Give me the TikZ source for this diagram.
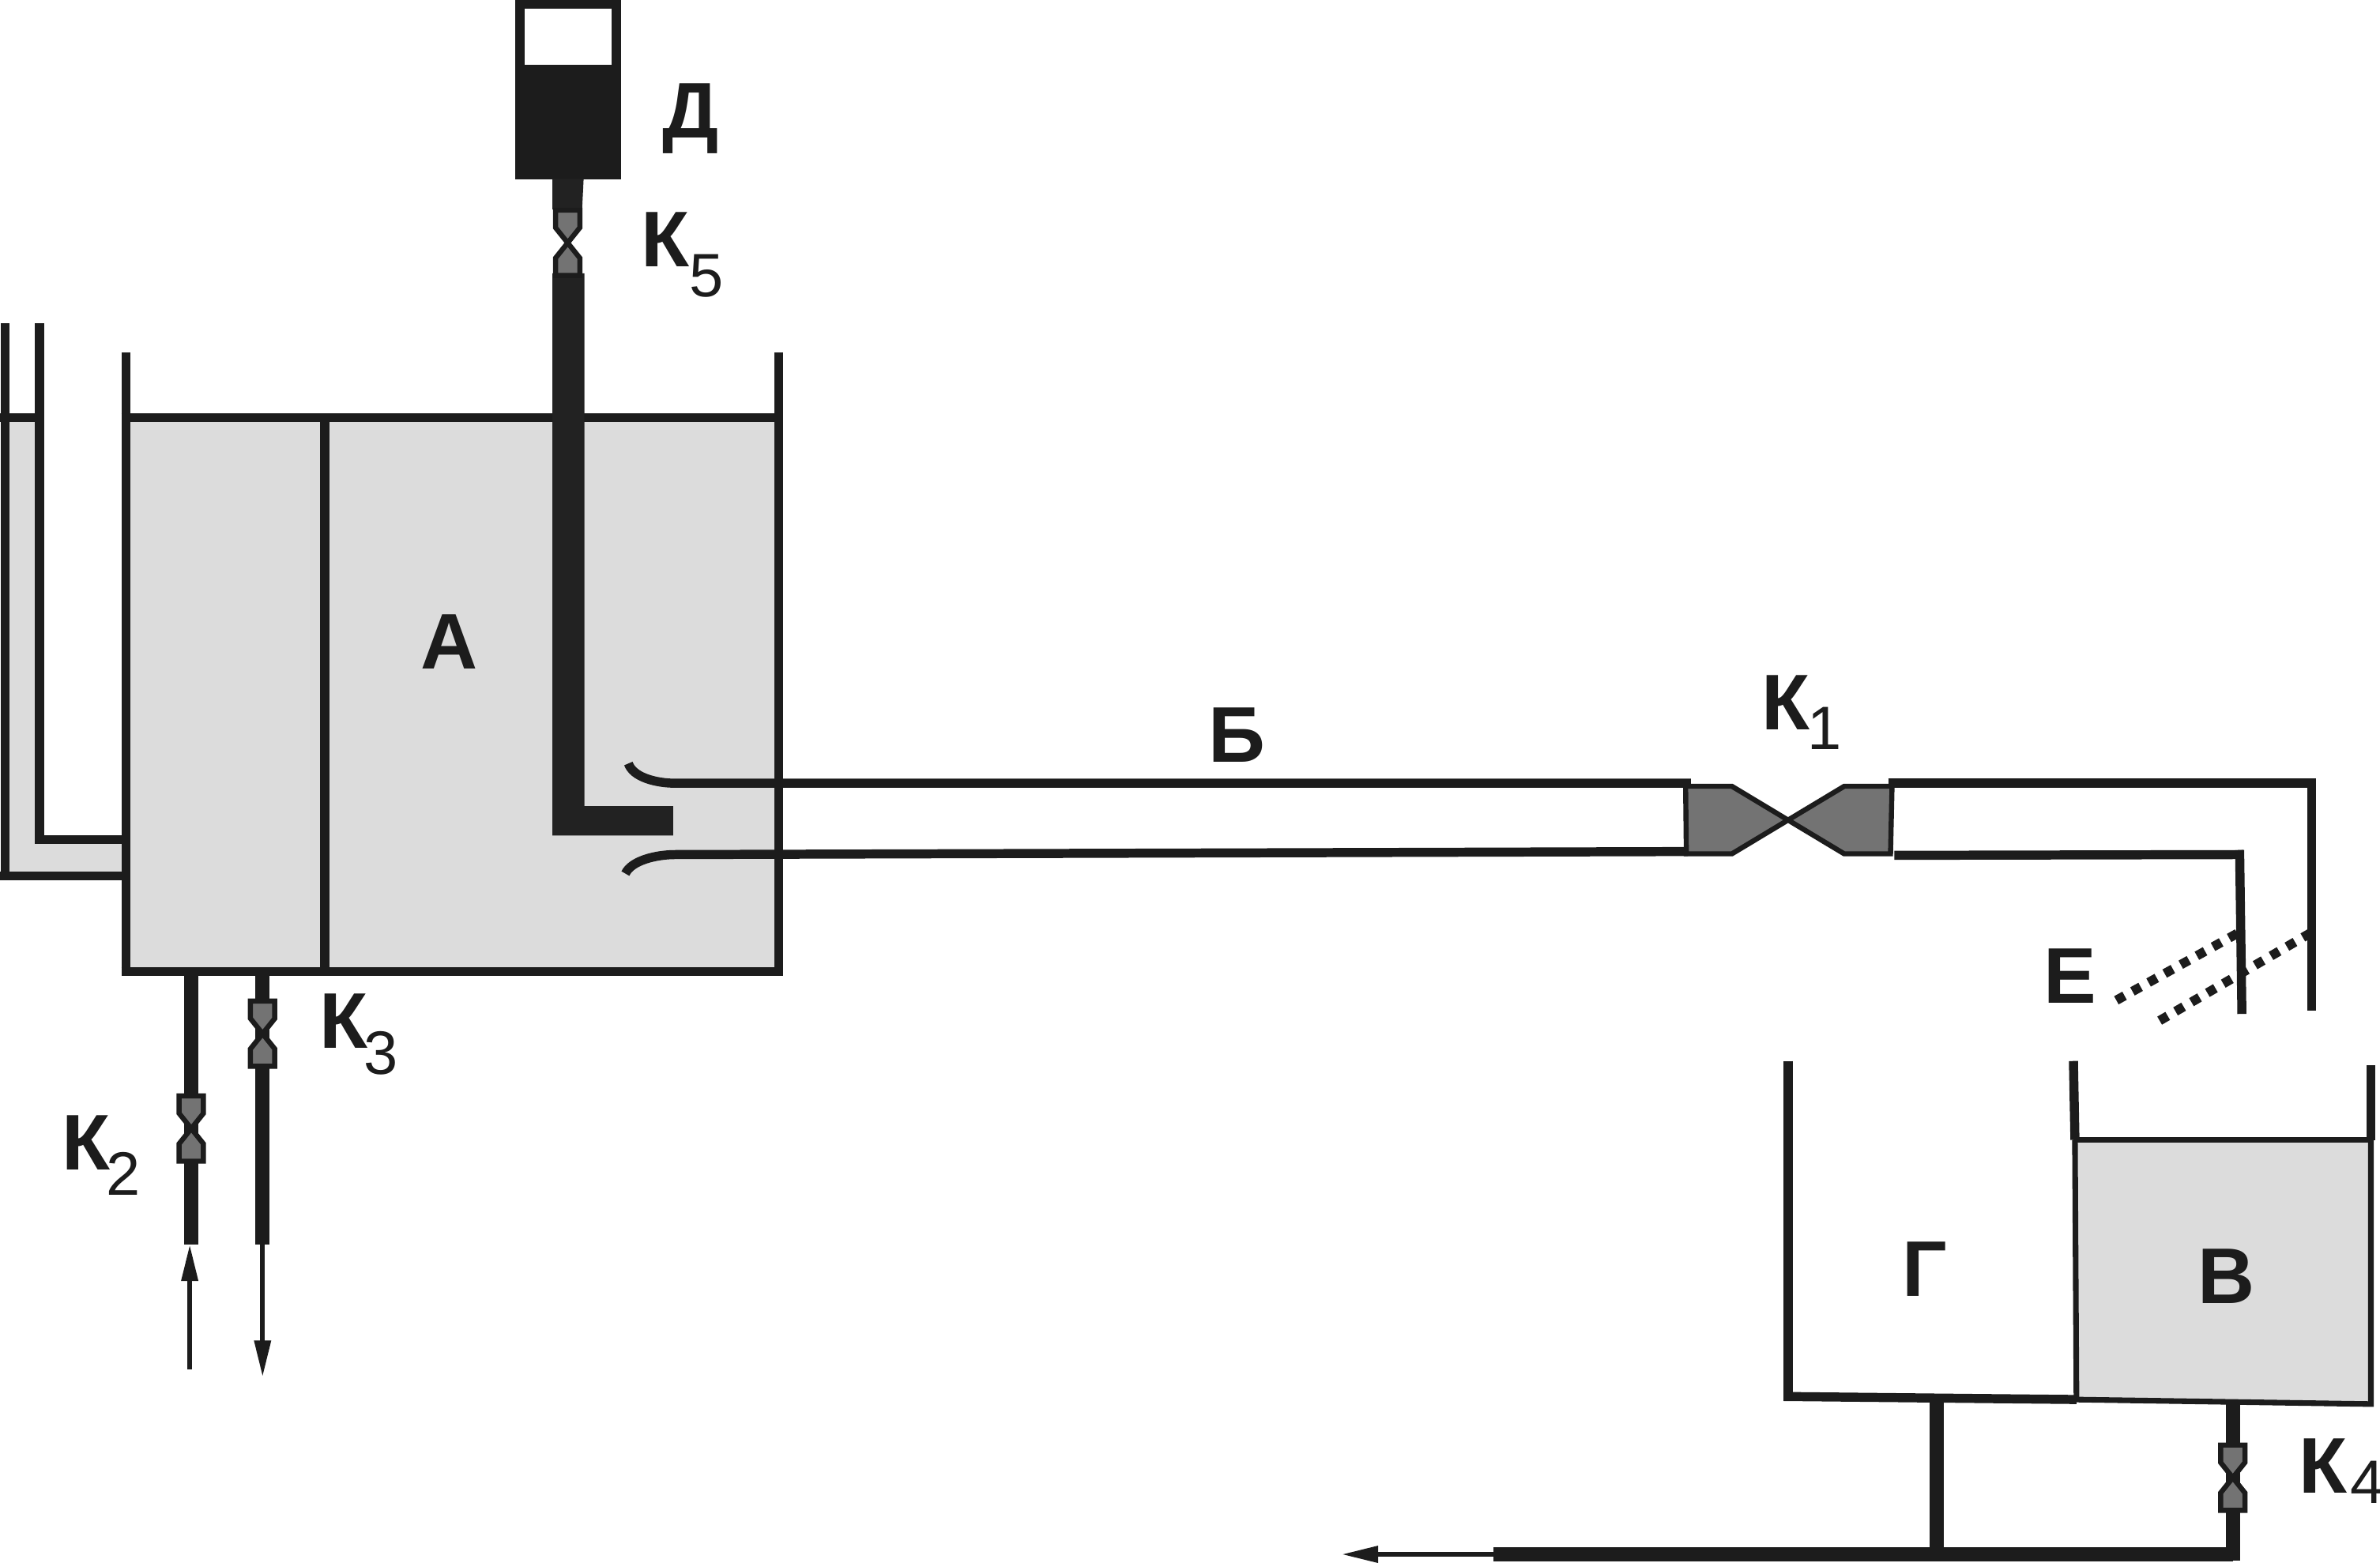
\documentclass[tikz,border=0pt]{standalone}
\usepackage{fontspec}
\setmainfont{Liberation Sans}
\usetikzlibrary{arrows.meta}
\definecolor{ink}{HTML}{1C1C1C}
\definecolor{dark}{HTML}{222222}
\definecolor{valvegray}{HTML}{737373}
\definecolor{liquid}{HTML}{DCDCDC}
\newcommand{\valvelabel}[3]{К\kern#3\raisebox{-#2}{\fontsize{23pt}{24pt}\selectfont\mdseries #1}}
\tikzset{
  wall/.style={draw=ink,line width=3.4pt,line cap=butt,line join=miter},
  fine/.style={draw=ink,line width=2.1pt,line join=miter},
  pipe/.style={draw=ink,line width=5.3pt},
  flow/.style={draw=ink,line width=1.7pt,-{Triangle[length=13.6pt,width=6pt]}},
  dots/.style={draw=ink,line width=3.5pt,dash pattern=on 3.5pt off 3.4pt},
  lab/.style={font=\fontsize{29.6pt}{30pt}\selectfont\bfseries,text=ink,inner sep=0pt},
  klab/.style={lab,anchor=base west},
  valveshape/.style={fill=valvegray,draw=ink,line width=1.9pt,line join=miter},
  pics/svalve/.style={code={
    \path[valveshape] (-8,-21.5)--(8,-21.5)--(8,-10)--(-8,10)--(-8,21.5)--(8,21.5)--(8,10)--(-8,-10)--cycle;
  }}
}
\begin{document}
\begin{tikzpicture}[x=0.02cm,y=-0.02cm]
\useasboundingbox (0,0) rectangle (1568,1029.7);
% fills
\fill[liquid] (83,275) rectangle (513,640);
\fill[liquid] (3,275) -- (26,275) -- (26,553) -- (83,553) -- (83,577) -- (3,577) -- cycle;
\fill[liquid] (1367,751) -- (1562,751) -- (1562,925) -- (1368,922) -- cycle;
% tank A
\draw[wall] (83,232) -- (83,643);
\draw[wall] (513,232) -- (513,643);
\draw[wall] (80,275) -- (516,275);
\draw[wall] (80,640) -- (516,640);
\draw[wall] (214,275) -- (214,640);
% side gauge
\draw[wall] (3.5,213) -- (3.5,580);
\draw[wall] (26,213) -- (26,556);
\draw[wall] (0,275) -- (26,275);
\draw[wall] (23,553) -- (83,553);
\draw[wall] (0,577) -- (83,577);
% reservoir D and feed tube
\fill[ink] (339.5,0) rectangle (409,118);
\fill[white] (345.5,5.5) rectangle (403,42.5);
\fill[dark] (364,118) -- (384.5,118) -- (383.5,138) -- (364,138) -- cycle;
\fill[dark] (364,180) -- (385,180) -- (385,531) -- (443.5,531) -- (443.5,550.5) -- (364,550.5) -- cycle;
\pic at (374,160) {svalve};
% tube B
\draw[wall] (414,503) .. controls (417,512) and (432,516) .. (445,516) -- (1114,516);
\draw[wall] (412,575.5) .. controls (416,567) and (432,563) .. (445,563) -- (1112,561);
% valve K1
\path[valveshape] (1110.5,518) -- (1141,518) -- (1215,562.5) -- (1245.5,562.5) -- (1246.5,518) -- (1215,518) -- (1141,562.5) -- (1111,562.5) -- cycle;
\draw[wall] (1244,516) -- (1526,516);
\draw[wall] (1523,516) -- (1523,666);
\draw[wall] (1248,563.5) -- (1478,563);
\draw[wall] (1475.5,560) -- (1477,668);
% shutter E
\draw[dots] (1394.3,659) -- (1474.6,614.6);
\draw[dots] (1422.8,672.4) -- (1523.5,613.9);
% tanks
\draw[wall] (1178,699) -- (1178,923);
\draw[wall] (1175,920) -- (1368,922);
\draw[wall] (1366,699) -- (1367,751);
\draw[wall] (1562,702) -- (1562,751);
\draw[fine] (1366,751) -- (1563,751);
\draw[fine] (1367,751) -- (1368,923);
\draw[fine] (1562,751) -- (1562,925) -- (1366,922);
% drain pipes
\draw[pipe] (1276,922) -- (1276,1024);
\draw[pipe] (1471,925) -- (1471,1028);
\draw[pipe] (984,1024) -- (1471,1024);
\pic at (1471,973.5) {svalve};
% pipes K2, K3
\draw[pipe] (126,641) -- (126,820);
\draw[pipe] (173,641) -- (173,820);
\pic at (126,743.5) {svalve};
\pic at (173,681) {svalve};
% flow arrows
\coordinate (inS) at (125,902);
\coordinate (inE) at (125,820);
\coordinate (outS) at (173,820);
\coordinate (outE) at (173,907);
\coordinate (drS) at (984,1024);
\coordinate (drE) at (884,1024);
\draw[flow] (inS) -- (inE);
\draw[flow] (outS) -- (outE);
\draw[flow] (drS) -- (drE);
% labels
\node[lab] (A) at (296,423) {А};
\node[lab] (B) at (815,484) {Б};
\node[lab] (V) at (1467,841) {В};
\node[lab] (G) at (1268,836) {Г};
\node[lab] (D) at (455,78) {Д};
\node[lab] (E) at (1364,643) {Е};
\node[klab] (K1) at (1160.4,481) {\valvelabel{1}{7.4pt}{-1pt}};
\node[klab] (K2) at (40.4,770.5) {\valvelabel{2}{9.7pt}{-1.5pt}};
\node[klab] (K3) at (210.4,690.5) {\valvelabel{3}{9.7pt}{-1.5pt}};
\node[klab] (K4) at (1514.4,983.5) {\valvelabel{4}{4pt}{1pt}};
\node[klab] (K5) at (421.9,175.5) {\valvelabel{5}{11.4pt}{0pt}};
\end{tikzpicture}
\end{document}
